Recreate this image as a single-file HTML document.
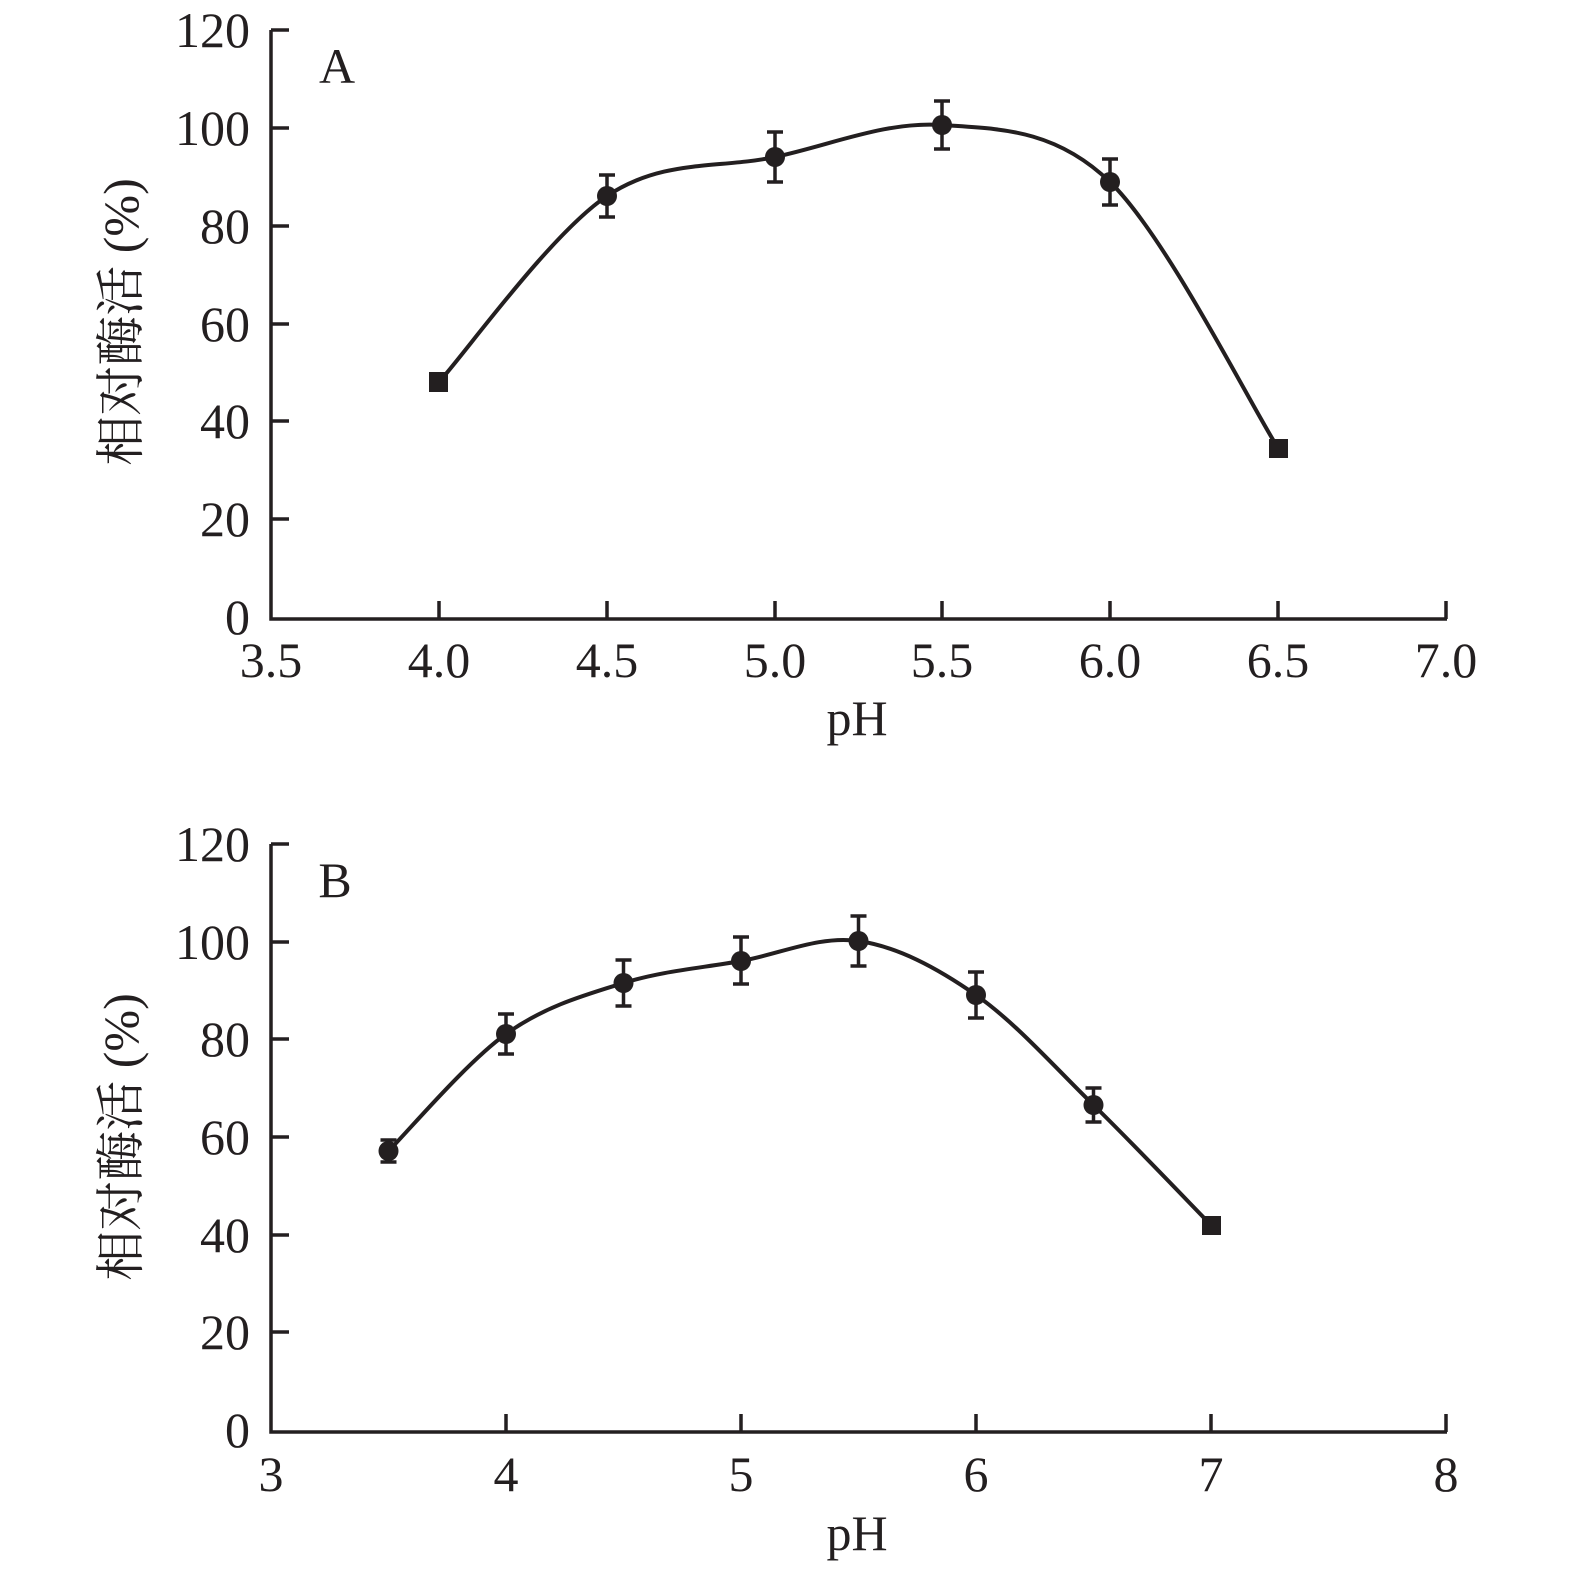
<!DOCTYPE html>
<html><head><meta charset="utf-8"><style>body{margin:0;background:#fff}svg{display:block}</style></head><body>
<svg width="1575" height="1575" xmlns="http://www.w3.org/2000/svg" font-family="'Liberation Serif','Noto Serif CJK SC',serif" fill="#231f20">
<g stroke="#231f20" stroke-width="3.5" fill="none">
<path d="M271,30 V619 H1447"/>
<path d="M271,30h18M271,128h18M271,226h18M271,324h18M271,421h18M271,519h18"/>
<path d="M439,619v-18M607,619v-18M775,619v-18M942,619v-18M1110,619v-18M1278,619v-18M1446,619v-18"/>
<path d="M271,844 V1432 H1447"/>
<path d="M271,844h18M271,942h18M271,1039h18M271,1137h18M271,1235h18M271,1332h18"/>
<path d="M506,1432v-18M741,1432v-18M976,1432v-18M1211,1432v-18M1446,1432v-18"/>
<path stroke-width="4" d="M439,382 C467,351 551,233.5 607,196 C663,158.5 719,169 775,157 C831,145 886,121 942,125 C998,129 1054,128 1110,182 C1166,236 1250,404 1278,448"/>
<path stroke-width="4" d="M388.5,1151 C408,1131.5 466.8,1062 506,1034 C545.2,1006 584.3,995.2 623.5,983 C662.7,970.8 701.8,968 741,961 C780.2,954 819.3,935.3 858.5,941 C897.7,946.7 936.8,967.7 976,995 C1015.2,1022.3 1054.3,1066.7 1093.5,1105 C1132.7,1143.3 1191.4,1205 1211,1225"/>
<path d="M607,175v42M599,175h16M599,217h16 M775,132v50M767,132h16M767,182h16 M942,101v48M934,101h16M934,149h16 M1110,159v46M1102,159h16M1102,205h16"/>
<path d="M388.5,1140v22M380.5,1140h16M380.5,1162h16 M506,1014v40M498,1014h16M498,1054h16 M623.5,960v46M615.5,960h16M615.5,1006h16 M741,937v47M733,937h16M733,984h16 M858.5,916v50M850.5,916h16M850.5,966h16 M976,972v46M968,972h16M968,1018h16 M1093.5,1088v34M1085.5,1088h16M1085.5,1122h16"/>
</g>
<g fill="#231f20">
<rect x="429" y="372" width="19" height="20"/>
<circle cx="607" cy="196" r="10"/><circle cx="775" cy="157" r="10"/><circle cx="942" cy="125" r="10"/><circle cx="1110" cy="182" r="10"/>
<rect x="1269" y="439" width="19" height="19"/>
<circle cx="388.5" cy="1151" r="10"/><circle cx="506" cy="1034" r="10"/><circle cx="623.5" cy="983" r="10"/><circle cx="741" cy="961" r="10"/><circle cx="858.5" cy="941" r="10"/><circle cx="976" cy="995" r="10"/><circle cx="1093.5" cy="1105" r="10"/>
<rect x="1202" y="1216" width="19" height="19"/>
</g>
<g font-size="50" text-anchor="end">
<text x="250" y="47">120</text><text x="250" y="145">100</text><text x="250" y="243">80</text><text x="250" y="341">60</text><text x="250" y="438">40</text><text x="250" y="536">20</text><text x="250" y="634">0</text>
<text x="250" y="861">120</text><text x="250" y="959">100</text><text x="250" y="1056">80</text><text x="250" y="1154">60</text><text x="250" y="1252">40</text><text x="250" y="1349">20</text><text x="250" y="1447">0</text>
</g>
<g font-size="50" text-anchor="middle">
<text x="271" y="677">3.5</text><text x="439" y="677">4.0</text><text x="607" y="677">4.5</text><text x="775" y="677">5.0</text><text x="942" y="677">5.5</text><text x="1110" y="677">6.0</text><text x="1278" y="677">6.5</text><text x="1446" y="677">7.0</text>
<text x="857" y="735">pH</text>
<text x="271" y="1491">3</text><text x="506" y="1491">4</text><text x="741" y="1491">5</text><text x="976" y="1491">6</text><text x="1211" y="1491">7</text><text x="1446" y="1491">8</text>
<text x="857" y="1550">pH</text>
<text x="337" y="83">A</text><text x="335" y="897">B</text>
<text transform="translate(138,322) rotate(-90)" font-size="50">相对酶活 (%)</text>
<text transform="translate(138,1137) rotate(-90)" font-size="50">相对酶活 (%)</text>
</g>
</svg>
</body></html>
